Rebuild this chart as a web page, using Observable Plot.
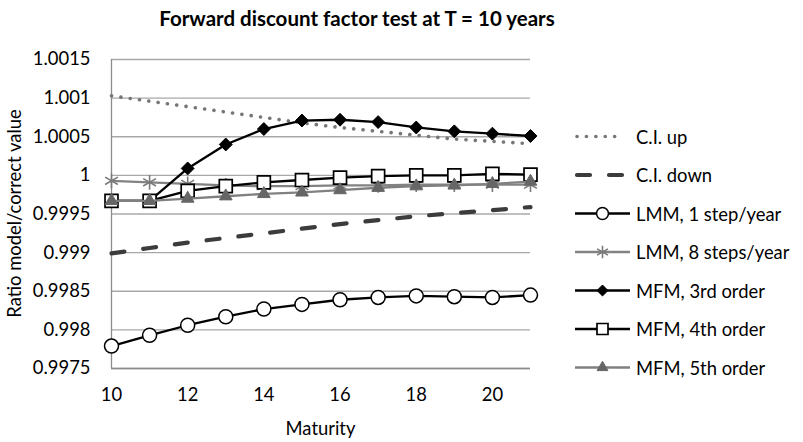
<!DOCTYPE html>
<html>
<head>
<meta charset="utf-8">
<script src="https://cdn.jsdelivr.net/npm/d3@7"></script>
<script src="https://cdn.jsdelivr.net/npm/@observablehq/plot@0.6"></script>
<style>
  body { margin: 0; background: #fff; }
  #chart { width: 803px; height: 442px; }
  #chart svg { font-family: Lato, "Open Sans", sans-serif; }
</style>
</head>
<body>
<div id="chart"></div>
<script>
// Maturities (years) on the horizontal axis
const maturity = [10, 11, 12, 13, 14, 15, 16, 17, 18, 19, 20, 21];

// Ratio of model value to correct value, per series
const ciUp      = [1.00103, 1.00096, 1.00089, 1.00082, 1.00075, 1.00068, 1.00062, 1.00057, 1.00052, 1.00047, 1.00044, 1.00041];
const ciDown    = [0.99899, 0.99906, 0.99913, 0.99919, 0.99925, 0.99931, 0.99937, 0.99942, 0.99947, 0.99951, 0.99955, 0.99959];
const lmm1      = [0.99779, 0.99793, 0.99806, 0.99817, 0.99827, 0.99833, 0.99839, 0.99842, 0.99844, 0.99843, 0.99842, 0.99845];
const lmm8      = [0.99993, 0.99991, 0.99989, 0.99987, 0.99986, 0.99986, 0.99987, 0.99987, 0.99988, 0.99988, 0.99988, 0.99988];
const mfm3      = [0.99967, 0.99967, 1.00009, 1.00040, 1.00060, 1.00071, 1.00072, 1.00069, 1.00062, 1.00057, 1.00054, 1.00051];
const mfm4      = [0.99967, 0.99967, 0.99980, 0.99986, 0.99991, 0.99994, 0.99997, 0.99999, 1.00000, 1.00000, 1.00002, 1.00001];
const mfm5      = [0.99967, 0.99967, 0.99970, 0.99973, 0.99976, 0.99978, 0.99981, 0.99984, 0.99986, 0.99987, 0.99989, 0.99992];

const seriesNames = ["C.I. up", "C.I. down", "LMM, 1 step/year", "LMM, 8 steps/year",
                     "MFM, 3rd order", "MFM, 4th order", "MFM, 5th order"];
const seriesValues = [ciUp, ciDown, lmm1, lmm8, mfm3, mfm4, mfm5];

// Axis ticks
const yTicks = [0.9975, 0.998, 0.9985, 0.999, 0.9995, 1, 1.0005, 1.001, 1.0015];
const yTickLabels = ["0.9975", "0.998", "0.9985", "0.999", "0.9995", "1", "1.0005", "1.001", "1.0015"];
const xTicks = [10, 12, 14, 16, 18, 20];

const titleText = "Forward discount factor test at T = 10 years";
const xTitle = "Maturity";
const yTitle = "Ratio model/correct value";

// Line and marker styling for each series (same order as seriesNames)
const styles = [
  { stroke: "#777777", width: 3.6, dash: "0.1 9.3", cap: "round" },
  { stroke: "#3c3c3c", width: 4.2, dash: "13 19", cap: "round" },
  { stroke: "#000000", width: 2.3, symbol: "circle", r: 7, fill: "#ffffff", mstroke: "#000000", mwidth: 1.5 },
  { stroke: "#828282", width: 2.3, symbol: "asterisk", r: 7, fill: "none", mstroke: "#7a7a7a", mwidth: 1.6 },
  { stroke: "#000000", width: 2.3, symbol: "diamond2", r: 5.8, fill: "#000000", mstroke: "#000000", mwidth: 1 },
  { stroke: "#000000", width: 2.3, symbol: "square", r: 7.3, fill: "#ffffff", mstroke: "#000000", mwidth: 1.7 },
  { stroke: "#808080", width: 2.3, symbol: "triangle", r: 4.7, fill: "#666666", mstroke: "#666666", mwidth: 1 }
];

const W = 803, H = 442;
const mL = 111, mR = 273, mT = 59, mB = 74;
const font = 18.4;

const marks = [
  Plot.gridY(yTicks, { stroke: "#a8a8a8", strokeOpacity: 1, strokeWidth: 1.3 }),
  Plot.ruleX([10], { stroke: "#8c8c8c", strokeWidth: 1.3 }),
  Plot.ruleY([0.9975], { stroke: "#8c8c8c", strokeWidth: 1.3 }),
  Plot.axisY(yTicks, {
    tickSize: 0, tickPadding: 21, fontSize: font,
    tickFormat: (d) => yTickLabels[yTicks.indexOf(d)], label: null
  }),
  Plot.axisX(xTicks, { tickSize: 0, tickPadding: 19, fontSize: font, label: null })
];

seriesValues.forEach((vals, k) => {
  const s = styles[k];
  const rows = maturity.map((m, i) => ({ maturity: m, value: vals[i] }));
  marks.push(Plot.line(rows, {
    x: "maturity", y: "value", stroke: s.stroke, strokeWidth: s.width,
    strokeDasharray: s.dash, strokeLinecap: s.cap || "butt", strokeLinejoin: "round"
  }));
  if (s.symbol) {
    marks.push(Plot.dot(rows, {
      x: "maturity", y: "value", symbol: s.symbol, r: s.r,
      fill: s.fill, stroke: s.mstroke, strokeWidth: s.mwidth
    }));
  }
});

const svg = Plot.plot({
  width: W, height: H,
  marginLeft: mL, marginRight: mR, marginTop: mT, marginBottom: mB,
  style: { fontFamily: "Lato, 'Open Sans', sans-serif", color: "#000", background: "#fff" },
  x: { domain: [10, 21] },
  y: { domain: [0.9975, 1.0015] },
  marks
});

document.getElementById("chart").appendChild(svg);

// Titles
const g = d3.select(svg);
g.append("text")
  .attr("x", 357).attr("y", 18).attr("text-anchor", "middle").attr("dominant-baseline", "central")
  .attr("font-size", 20.5).attr("font-weight", "bold").attr("fill", "#000")
  .text(titleText);
g.append("text")
  .attr("x", (mL + (W - mR)) / 2).attr("y", 428).attr("text-anchor", "middle").attr("dominant-baseline", "central")
  .attr("font-size", font).attr("fill", "#000")
  .text(xTitle);
g.append("text")
  .attr("transform", `translate(14,${(mT + (H - mB)) / 2}) rotate(-90)`)
  .attr("text-anchor", "middle").attr("dominant-baseline", "central")
  .attr("font-size", font).attr("fill", "#000")
  .text(yTitle);

// Legend
const symbolTypes = {
  circle: d3.symbolCircle, asterisk: d3.symbolAsterisk, diamond2: d3.symbolDiamond2,
  square: d3.symbolSquare, triangle: d3.symbolTriangle
};
const legX0 = 575, legX1 = 630, legY0 = 136.5, legStep = 38.5;
seriesNames.forEach((name, k) => {
  const s = styles[k];
  const y = legY0 + k * legStep;
  const row = g.append("g");
  const x1 = s.dash ? (k === 0 ? 624 : 623) : legX1;
  row.append("line")
    .attr("x1", legX0 + (s.cap === "round" ? 2 : 0)).attr("x2", x1).attr("y1", y).attr("y2", y)
    .attr("stroke", s.stroke).attr("stroke-width", s.width)
    .attr("stroke-dasharray", s.dash || null).attr("stroke-linecap", s.cap || "butt");
  if (s.symbol) {
    const size = Math.PI * (s.r * 0.85) ** 2;
    row.append("path")
      .attr("transform", `translate(${(legX0 + legX1) / 2},${y})`)
      .attr("d", d3.symbol(symbolTypes[s.symbol], size)())
      .attr("fill", s.fill).attr("stroke", s.mstroke).attr("stroke-width", s.mwidth);
  }
  row.append("text")
    .attr("x", 636).attr("y", y).attr("text-anchor", "start").attr("dominant-baseline", "central")
    .attr("font-size", font).attr("fill", "#000")
    .text(name);
});
</script>
</body>
</html>
